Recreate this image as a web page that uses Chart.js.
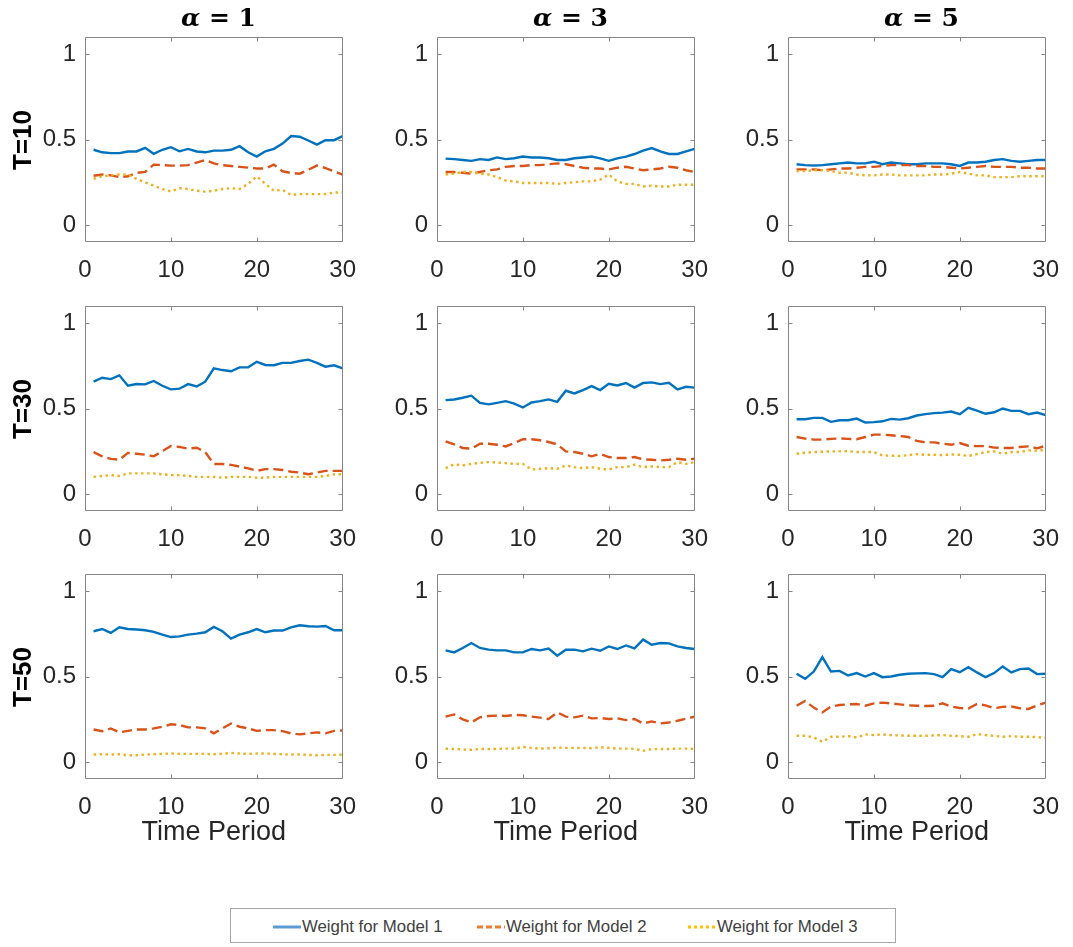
<!DOCTYPE html>
<html>
<head>
<meta charset="utf-8">
<script src="https://cdn.jsdelivr.net/npm/chart.js@4.4.1/dist/chart.umd.min.js"></script>
<style>
  body { margin: 0; background: #fff; }
  #page { position: relative; width: 1073px; height: 947px; overflow: hidden; }
  #page canvas { position: absolute; }
  .colhead { position: absolute; top: 3px; width: 267px; line-height: 30px; text-align: center;
             font: bold 25px "DejaVu Serif", serif; color: #000; }
  .rowhead { position: absolute; width: 120px; height: 30px; line-height: 30px; text-align: center;
             font: bold 26px "Liberation Sans", Arial, sans-serif; color: #000; transform: rotate(-90deg); }
  #legend { position: absolute; left: 230px; top: 908px; width: 666px; height: 35px;
            border: 1px solid #a6a6a6; box-sizing: border-box; }
  .item { position: absolute; top: 0; height: 35px; display: flex; align-items: center;
          font: 16.8px "Liberation Sans", Arial, sans-serif; color: #404040; }
  .item svg { margin-right: 1px; }
</style>
</head>
<body>
<div id="page">
  <div id="legend"></div>
</div>
<script>
// x values and axis ticks
const periods = [1,2,3,4,5,6,7,8,9,10,11,12,13,14,15,16,17,18,19,20,21,22,23,24,25,26,27,28,29,30];
const xTicks = [0, 10, 20, 30];
const yTicks = [0, 0.5, 1];
const alphaLabels = ["1", "3", "5"];
const horizonLabels = ["T=10", "T=30", "T=50"];
const seriesNames = ["Weight for Model 1", "Weight for Model 2", "Weight for Model 3"];

// T=10
const m1_T10_a1 = [0.44,0.425,0.42,0.42,0.43,0.43,0.451,0.416,0.44,0.455,0.431,0.445,0.43,0.425,0.435,0.435,0.44,0.461,0.425,0.40,0.431,0.445,0.476,0.52,0.516,0.494,0.47,0.496,0.496,0.52];
const m2_T10_a1 = [0.288,0.295,0.29,0.28,0.285,0.305,0.31,0.353,0.35,0.347,0.347,0.35,0.365,0.38,0.36,0.35,0.345,0.34,0.335,0.33,0.33,0.353,0.314,0.304,0.30,0.323,0.347,0.333,0.314,0.294];
const m3_T10_a1 = [0.27,0.285,0.29,0.295,0.295,0.27,0.25,0.23,0.21,0.196,0.215,0.21,0.2,0.195,0.2,0.21,0.215,0.21,0.24,0.284,0.24,0.2,0.205,0.175,0.18,0.18,0.18,0.18,0.19,0.19];

const m1_T10_a3 = [0.388,0.385,0.38,0.375,0.385,0.38,0.395,0.385,0.39,0.40,0.395,0.395,0.39,0.38,0.38,0.39,0.395,0.40,0.39,0.375,0.39,0.40,0.415,0.435,0.45,0.43,0.415,0.415,0.43,0.445];
const m2_T10_a3 = [0.31,0.31,0.305,0.30,0.31,0.32,0.325,0.34,0.345,0.345,0.35,0.35,0.355,0.36,0.355,0.345,0.335,0.33,0.33,0.325,0.335,0.34,0.33,0.32,0.325,0.33,0.34,0.335,0.32,0.31];
const m3_T10_a3 = [0.295,0.30,0.31,0.31,0.30,0.295,0.28,0.26,0.255,0.245,0.245,0.245,0.245,0.24,0.245,0.25,0.255,0.255,0.265,0.295,0.255,0.24,0.24,0.225,0.23,0.225,0.225,0.235,0.235,0.235];

const m1_T10_a5 = [0.355,0.35,0.348,0.35,0.355,0.36,0.365,0.36,0.36,0.37,0.355,0.365,0.36,0.355,0.355,0.36,0.36,0.36,0.355,0.345,0.365,0.365,0.37,0.38,0.385,0.375,0.37,0.375,0.38,0.38];
const m2_T10_a5 = [0.325,0.325,0.325,0.32,0.325,0.33,0.33,0.335,0.34,0.34,0.345,0.35,0.35,0.35,0.345,0.345,0.34,0.34,0.335,0.33,0.335,0.34,0.345,0.34,0.34,0.34,0.335,0.335,0.33,0.33];
const m3_T10_a5 = [0.315,0.315,0.32,0.32,0.315,0.305,0.305,0.295,0.29,0.29,0.295,0.295,0.29,0.29,0.29,0.29,0.295,0.295,0.30,0.31,0.30,0.29,0.29,0.28,0.28,0.28,0.285,0.285,0.285,0.285];

// T=30
const m1_T30_a1 = [0.657,0.68,0.672,0.694,0.633,0.643,0.641,0.661,0.633,0.612,0.616,0.643,0.629,0.657,0.735,0.725,0.718,0.741,0.741,0.773,0.755,0.753,0.767,0.767,0.778,0.786,0.767,0.745,0.753,0.735];
const m2_T30_a1 = [0.245,0.22,0.205,0.20,0.24,0.235,0.23,0.22,0.25,0.28,0.275,0.265,0.27,0.245,0.175,0.175,0.17,0.16,0.15,0.135,0.145,0.145,0.14,0.13,0.125,0.115,0.125,0.135,0.135,0.135];
const m3_T30_a1 = [0.10,0.105,0.11,0.105,0.12,0.12,0.12,0.12,0.115,0.11,0.11,0.105,0.10,0.10,0.10,0.095,0.10,0.10,0.10,0.095,0.095,0.10,0.10,0.10,0.10,0.10,0.10,0.105,0.115,0.115];

const m1_T30_a3 = [0.549,0.553,0.563,0.575,0.533,0.524,0.533,0.543,0.529,0.506,0.535,0.543,0.553,0.539,0.604,0.588,0.608,0.631,0.608,0.645,0.635,0.649,0.622,0.649,0.653,0.643,0.651,0.612,0.627,0.622];
const m2_T30_a3 = [0.308,0.29,0.269,0.265,0.294,0.294,0.288,0.278,0.298,0.32,0.32,0.314,0.304,0.29,0.249,0.245,0.235,0.22,0.235,0.216,0.21,0.21,0.216,0.202,0.20,0.196,0.20,0.206,0.20,0.206];
const m3_T30_a3 = [0.151,0.173,0.167,0.176,0.182,0.186,0.184,0.18,0.176,0.176,0.143,0.147,0.151,0.147,0.167,0.157,0.151,0.157,0.147,0.143,0.157,0.157,0.171,0.157,0.161,0.157,0.157,0.186,0.176,0.186];

const m1_T30_a5 = [0.437,0.437,0.445,0.445,0.422,0.431,0.431,0.441,0.418,0.42,0.425,0.439,0.435,0.443,0.459,0.467,0.473,0.476,0.482,0.467,0.504,0.488,0.469,0.478,0.50,0.486,0.486,0.467,0.476,0.461];
const m2_T30_a5 = [0.333,0.324,0.318,0.318,0.322,0.325,0.322,0.32,0.333,0.347,0.347,0.343,0.339,0.333,0.31,0.302,0.302,0.294,0.288,0.298,0.282,0.28,0.28,0.271,0.269,0.269,0.275,0.278,0.267,0.282];
const m3_T30_a5 = [0.235,0.241,0.245,0.247,0.249,0.249,0.251,0.245,0.245,0.245,0.225,0.224,0.222,0.227,0.233,0.229,0.229,0.227,0.231,0.229,0.222,0.233,0.245,0.249,0.235,0.245,0.245,0.255,0.253,0.259];

// T=50
const m1_T50_a1 = [0.765,0.778,0.755,0.788,0.778,0.775,0.771,0.761,0.745,0.731,0.735,0.745,0.751,0.759,0.79,0.765,0.722,0.745,0.759,0.778,0.759,0.769,0.769,0.788,0.80,0.794,0.792,0.796,0.771,0.771];
const m2_T50_a1 = [0.19,0.18,0.196,0.173,0.182,0.19,0.19,0.196,0.206,0.22,0.216,0.202,0.202,0.196,0.167,0.196,0.225,0.206,0.196,0.182,0.186,0.186,0.18,0.167,0.161,0.167,0.173,0.167,0.182,0.184];
const m3_T50_a1 = [0.043,0.045,0.043,0.045,0.039,0.039,0.043,0.045,0.047,0.049,0.047,0.047,0.047,0.047,0.045,0.047,0.053,0.049,0.047,0.049,0.049,0.047,0.045,0.043,0.043,0.041,0.039,0.041,0.041,0.043];

const m1_T50_a3 = [0.653,0.641,0.667,0.696,0.667,0.657,0.653,0.653,0.641,0.641,0.661,0.653,0.663,0.622,0.657,0.657,0.647,0.663,0.651,0.676,0.661,0.682,0.665,0.716,0.686,0.696,0.694,0.676,0.667,0.661];
const m2_T50_a3 = [0.265,0.278,0.249,0.231,0.261,0.269,0.271,0.269,0.275,0.273,0.265,0.259,0.251,0.29,0.265,0.261,0.271,0.255,0.257,0.251,0.255,0.245,0.251,0.225,0.237,0.225,0.231,0.241,0.253,0.265];
const m3_T50_a3 = [0.078,0.076,0.073,0.071,0.076,0.075,0.076,0.078,0.078,0.088,0.082,0.078,0.08,0.084,0.082,0.082,0.082,0.08,0.086,0.082,0.078,0.078,0.076,0.065,0.075,0.075,0.076,0.078,0.078,0.076];

const m1_T50_a5 = [0.516,0.486,0.529,0.614,0.529,0.533,0.506,0.52,0.50,0.52,0.496,0.50,0.51,0.516,0.518,0.52,0.514,0.496,0.543,0.525,0.555,0.524,0.496,0.52,0.559,0.524,0.543,0.547,0.514,0.516];
const m2_T50_a5 = [0.329,0.357,0.318,0.29,0.324,0.333,0.337,0.339,0.329,0.343,0.347,0.343,0.337,0.331,0.329,0.327,0.329,0.343,0.324,0.316,0.312,0.339,0.331,0.314,0.322,0.324,0.314,0.31,0.331,0.347];
const m3_T50_a5 = [0.153,0.153,0.143,0.118,0.147,0.147,0.151,0.143,0.161,0.157,0.161,0.157,0.155,0.153,0.153,0.153,0.155,0.157,0.153,0.151,0.147,0.163,0.157,0.153,0.147,0.151,0.147,0.147,0.145,0.141];

const grid = [
  [[m1_T10_a1, m2_T10_a1, m3_T10_a1], [m1_T10_a3, m2_T10_a3, m3_T10_a3], [m1_T10_a5, m2_T10_a5, m3_T10_a5]],
  [[m1_T30_a1, m2_T30_a1, m3_T30_a1], [m1_T30_a3, m2_T30_a3, m3_T30_a3], [m1_T30_a5, m2_T30_a5, m3_T30_a5]],
  [[m1_T50_a1, m2_T50_a1, m3_T50_a1], [m1_T50_a3, m2_T50_a3, m3_T50_a3], [m1_T50_a5, m2_T50_a5, m3_T50_a5]]
];

// styles
const lineColors = ["#0072BD", "#D95319", "#EDB120"];
const lineDashes = [[], [10, 5], [2.5, 3.5]];
const legendColors = ["#5B9BD5", "#ED7D31", "#FFC000"];
const tickFont = { family: '"Liberation Sans", Arial, sans-serif', size: 24 };

// panel geometry (plot box position on the page)
const boxLeft = [85, 437, 788];
const boxTop = [37, 306, 574];
const BOX_W = 267, BOX_H = 205;
const Y_AXIS_W = 60, PAD_T = 28, PAD_R = 18;

const page = document.getElementById("page");

// draws the full box with inward ticks, like matlab
const boxPlugin = {
  id: "box",
  afterDraw(chart) {
    const { ctx, chartArea: a, scales: { x, y } } = chart;
    const l = Math.round(a.left) + 0.5, r = Math.round(a.right) - 0.5;
    const t = Math.round(a.top) + 0.5, b = Math.round(a.bottom) - 0.5;
    ctx.save();
    ctx.strokeStyle = "#858585";
    ctx.lineWidth = 1;
    ctx.beginPath();
    ctx.rect(l, t, r - l, b - t);
    xTicks.forEach((v) => {
      const px = Math.round(x.getPixelForValue(v)) + 0.5;
      if (px <= l + 1 || px >= r - 1) return;
      ctx.moveTo(px, b); ctx.lineTo(px, b - 4);
      ctx.moveTo(px, t); ctx.lineTo(px, t + 4);
    });
    yTicks.forEach((v) => {
      const py = Math.round(y.getPixelForValue(v)) + 0.5;
      ctx.moveTo(l, py); ctx.lineTo(l + 4, py);
      ctx.moveTo(r, py); ctx.lineTo(r - 4, py);
    });
    ctx.stroke();
    ctx.restore();
  }
};

function makePanel(row, col) {
  const series = grid[row][col];
  const bottomRow = row === 2;
  const xAxisH = bottomRow ? 75 : 45;
  const canvas = document.createElement("canvas");
  canvas.width = Y_AXIS_W + BOX_W + PAD_R;
  canvas.height = PAD_T + BOX_H + xAxisH;
  canvas.style.left = (boxLeft[col] - Y_AXIS_W) + "px";
  canvas.style.top = (boxTop[row] - PAD_T) + "px";
  page.appendChild(canvas);

  new Chart(canvas, {
    type: "line",
    data: {
      datasets: series.map((d, i) => ({
        label: seriesNames[i],
        data: d.map((v, k) => ({ x: periods[k], y: v })),
        borderColor: lineColors[i],
        borderWidth: 2.4,
        borderDash: lineDashes[i],
        borderCapStyle: "butt",
        pointRadius: 0,
        tension: 0,
        fill: false,
        order: 2 - i
      }))
    },
    options: {
      responsive: false,
      animation: false,
      layout: { padding: { top: PAD_T, right: PAD_R, left: 0, bottom: 0 } },
      plugins: { legend: { display: false }, tooltip: { enabled: false } },
      scales: {
        x: {
          type: "linear",
          min: 0,
          max: 30,
          afterBuildTicks: (s) => { s.ticks = xTicks.map((v) => ({ value: v })); },
          afterFit: (s) => { s.height = xAxisH; },
          grid: { display: false, drawTicks: false },
          border: { display: false },
          ticks: { padding: 14, color: "#262626", font: tickFont, maxRotation: 0, autoSkip: false },
          title: {
            display: bottomRow,
            text: "Time Period",
            color: "#262626",
            font: { family: '"Liberation Sans", Arial, sans-serif', size: 27 },
            padding: { top: 0, bottom: 5 }
          }
        },
        y: {
          type: "linear",
          min: -0.1,
          max: 1.1,
          afterBuildTicks: (s) => { s.ticks = yTicks.map((v) => ({ value: v })); },
          afterFit: (s) => { s.width = Y_AXIS_W; },
          grid: { display: false, drawTicks: false },
          border: { display: false },
          ticks: { padding: 9, color: "#262626", font: tickFont, callback: (v) => String(v) }
        }
      }
    },
    plugins: [boxPlugin]
  });
}

for (let r = 0; r < 3; r++) {
  for (let c = 0; c < 3; c++) makePanel(r, c);
}

// column headers
alphaLabels.forEach((a, c) => {
  const d = document.createElement("div");
  d.className = "colhead";
  d.style.left = boxLeft[c] + "px";
  d.innerHTML = "<i>α</i> = " + a;
  page.appendChild(d);
});

// row headers
horizonLabels.forEach((t, r) => {
  const d = document.createElement("div");
  d.className = "rowhead";
  d.style.left = (22 - 60) + "px";
  d.style.top = (boxTop[r] + BOX_H / 2 - 15) + "px";
  d.textContent = t;
  page.appendChild(d);
});

// shared legend
const legend = document.getElementById("legend");
const legendX = [42, 246, 457];
seriesNames.forEach((name, i) => {
  const item = document.createElement("div");
  item.className = "item";
  item.style.left = legendX[i] + "px";
  const dash = i === 1 ? "6,3" : i === 2 ? "3,3" : "";
  item.innerHTML =
    '<svg width="28" height="6"><line x1="0" y1="3" x2="28" y2="3" stroke="' + legendColors[i] +
    '" stroke-width="3" stroke-dasharray="' + dash + '"/></svg>';
  item.appendChild(document.createTextNode(name));
  legend.appendChild(item);
});
</script>
</body>
</html>
